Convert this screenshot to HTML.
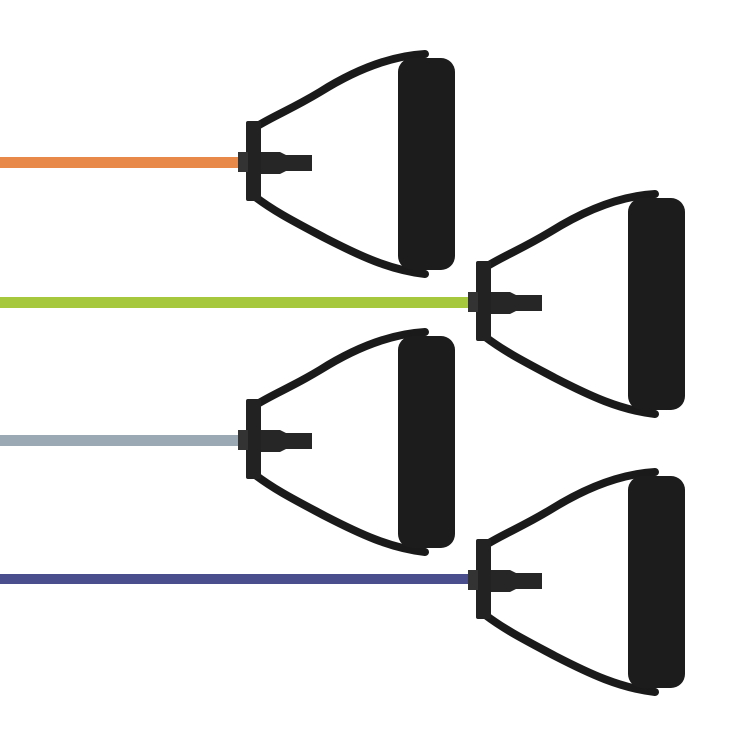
<!DOCTYPE html>
<html><head><style>body{margin:0;background:#fff}svg{display:block}</style></head>
<body>
<svg width="750" height="750" viewBox="0 0 750 750" xmlns="http://www.w3.org/2000/svg">
<defs>
<g id="h">
  <path d="M254,128 C275,115 290,110 320,92 C355,70 390,56 425,54" fill="none" stroke="#1a1a1a" stroke-width="8" stroke-linecap="round"/>
  <path d="M254,196 C275,212 295,222 325,238 C360,256 390,270 425,274" fill="none" stroke="#1a1a1a" stroke-width="8" stroke-linecap="round"/>
  <rect x="246" y="121" width="15" height="80" rx="2" fill="#222"/>
  <rect x="238" y="152" width="10" height="20" fill="#333"/>
  <path d="M261,152 L280,152 L286,155 L312,155 L312,171 L286,171 L280,174 L261,174 Z" fill="#262626"/>
  <rect x="398" y="58" width="57" height="212" rx="14" fill="#1c1c1c"/>
</g>
</defs>
<rect x="0" y="157" width="242" height="11" fill="#e8894a"/>
<use href="#h"/>
<rect x="0" y="297" width="472" height="11" fill="#a6c83c"/>
<use href="#h" transform="translate(230,140)"/>
<rect x="0" y="435" width="242" height="11" fill="#9aa9b3"/>
<use href="#h" transform="translate(0,278)"/>
<rect x="0" y="574" width="472" height="10" fill="#4b4e8c"/>
<use href="#h" transform="translate(230,418)"/>
</svg>
</body></html>
